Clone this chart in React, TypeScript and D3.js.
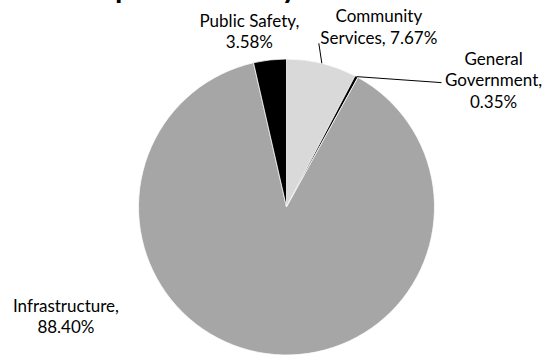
import React from 'react';
import * as d3 from 'd3';

// ---- data ----
const categories: string[] = ['Community Services', 'General Government', 'Infrastructure', 'Public Safety'];
const percents: number[] = [7.67, 0.35, 88.4, 3.58];
const colors: string[] = ['#d9d9d9', '#000000', '#a6a6a6', '#000000'];
const titleText = 'Expenditures by Function';

// words per label line (for wrapping "Category, xx.xx%")
const wordsPerLine: number[][] = [[1, 2], [1, 1, 1], [1, 1], [2, 1]];
// label anchor offset from the slice's outer mid point (first-line baseline, centred)
const labelOffset: [number, number][] = [[57, -41], [137, -12], [-200, -42], [-20.5, -33]];
// leader line start relative to label anchor (null = no leader)
const leaderStart: ([number, number] | null)[] = [[-60, 21], [-52, 18], null, null];

const W = 546;
const H = 356;
const cx = 286.5;
const cy = 207;
const R = 148;
const FONT = 'Lato, "Open Sans", sans-serif';
const FS = 17;
const LH = 21.5;

export default function App() {
  const pie = d3.pie<number>().sort(null).value((d) => d);
  const arcs = pie(percents);
  const arc = d3.arc<d3.PieArcDatum<number>>().innerRadius(0).outerRadius(R);
  const edge = d3.arc<d3.PieArcDatum<number>>().innerRadius(R).outerRadius(R);

  return (
    <svg
      width={W}
      height={H}
      style={{ position: 'absolute', left: 0, top: 0, background: '#fff' }}
      fontFamily={FONT}
    >
      <text x={82} y={-2} fontSize={30} fontWeight={700} fill="#000">
        {titleText}
      </text>
      <g transform={`translate(${cx},${cy})`}>
        {arcs.map((a, i) => (
          <path key={categories[i]} d={arc(a) || ''} fill={colors[i]} stroke="#fff" strokeWidth={0.75} />
        ))}
      </g>
      {arcs.map((a, i) => {
        const [mx, my] = edge.centroid(a);
        const px = cx + mx;
        const py = cy + my;
        const ax = px + labelOffset[i][0];
        const ay = py + labelOffset[i][1];
        const words = `${categories[i]}, ${percents[i].toFixed(2)}%`.split(' ');
        const lines: string[] = [];
        let k = 0;
        wordsPerLine[i].forEach((n) => {
          lines.push(words.slice(k, k + n).join(' '));
          k += n;
        });
        const ls = leaderStart[i];
        return (
          <g key={'lab' + i}>
            {ls && (
              <line x1={ax + ls[0]} y1={ay + ls[1]} x2={px} y2={py} stroke="#000" strokeWidth={1} />
            )}
            <text textAnchor="middle" fontSize={FS} fill="#000">
              {lines.map((l, j) => (
                <tspan key={j} x={ax} y={ay + j * LH}>
                  {l}
                </tspan>
              ))}
            </text>
          </g>
        );
      })}
    </svg>
  );
}
